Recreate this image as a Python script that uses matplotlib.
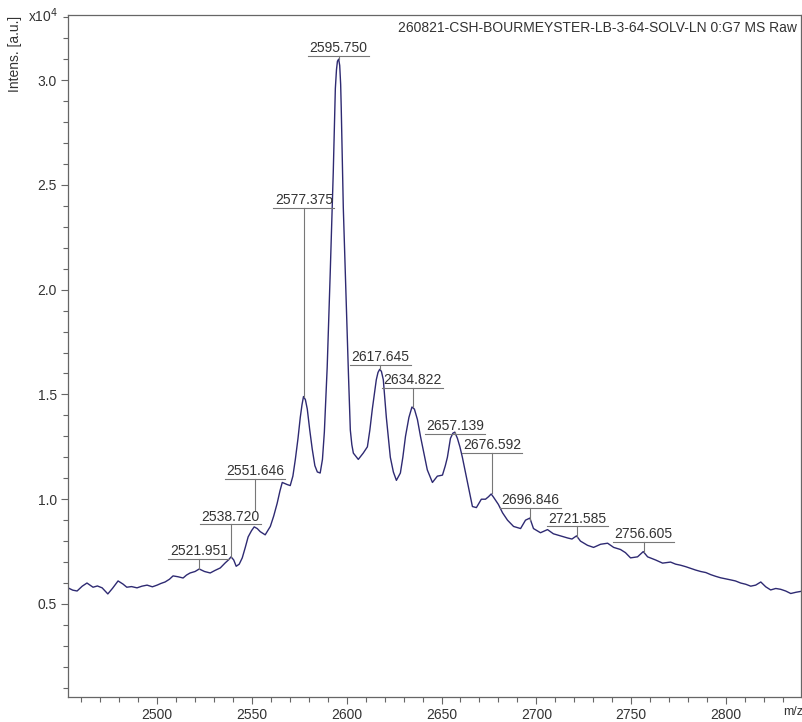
#MALDI spectrum, sample G7 raw

import matplotlib
matplotlib.use('Agg')
from matplotlib import pyplot as plt
from matplotlib.ticker import MultipleLocator

plt.rcParams['font.family'] = ['Liberation Sans', 'DejaVu Sans']

# spectrum trace (intensity in 1e4 a.u.)
mz = [2453, 2455.5, 2457.8, 2460.5, 2463, 2466.2, 2468.5, 2471, 2474, 2476.5,
      2479.4, 2482, 2484, 2486.5, 2489.4, 2492, 2494.7, 2497.5, 2500, 2502,
      2504.2, 2506.5, 2508.4, 2511, 2513.7, 2515.5, 2517.4, 2520, 2522.2, 2525,
      2528, 2530.5, 2533.3, 2535.9, 2537.6, 2539, 2540.4, 2541.7, 2543.3, 2544.9,
      2546.5, 2548, 2549.8, 2551.2, 2552.8, 2554.4, 2557, 2559.7, 2561.5, 2563.3,
      2564.8, 2566, 2568.6, 2570.2, 2571.6, 2572.9, 2574.3, 2575.5, 2576.4, 2577.2,
      2578.2, 2579.2, 2580.5, 2581.8, 2583.2, 2584.5, 2586, 2587.2, 2588.2, 2589.7,
      2591.3, 2592.9, 2594, 2594.6, 2595.1, 2595.75, 2596.3, 2596.8, 2597.1, 2598.2,
      2599.8, 2600.9, 2601.9, 2602.7, 2603.5, 2606.1, 2608.7, 2610.9, 2612.2, 2613.5,
      2615.6, 2616.5, 2617.4, 2618.3, 2619.3, 2620.9, 2623, 2624.6, 2626.2, 2628.3,
      2629.6, 2631, 2632.8, 2634.4, 2635.7, 2637.3, 2638.9, 2640.7, 2642.5, 2645.2,
      2647.8, 2650.5, 2652, 2653.1, 2654.7, 2656, 2657, 2658.4, 2659.7, 2661,
      2663.7, 2666.3, 2668.4, 2671, 2673.2, 2674.8, 2676.2, 2677.4, 2680, 2682.2,
      2684.8, 2688, 2691.7, 2694.3, 2696.6, 2698.5, 2700.4, 2702.2, 2705.9, 2709,
      2712.8, 2716.5, 2718.8, 2721.2, 2723.3, 2727, 2730.2, 2733.9, 2737.6, 2740.8,
      2744.4, 2747, 2749.7, 2753.4, 2756.4, 2758.7, 2762.9, 2766.6, 2770.8, 2773.5,
      2776.1, 2778.8, 2781.4, 2784, 2786.7, 2789.4, 2792, 2794.6, 2797.2, 2800,
      2802.5, 2805, 2807.8, 2810.5, 2813.1, 2815.7, 2818.4, 2821, 2823.6, 2826.3,
      2828.9, 2831.5, 2834.2, 2837, 2839.5]
intens = [0.577, 0.566, 0.562, 0.585, 0.60, 0.58, 0.586, 0.577, 0.548, 0.575,
          0.61, 0.595, 0.58, 0.583, 0.577, 0.585, 0.59, 0.582, 0.59, 0.598,
          0.605, 0.618, 0.634, 0.63, 0.624, 0.638, 0.648, 0.655, 0.667, 0.655,
          0.648, 0.66, 0.672, 0.696, 0.71, 0.725, 0.71, 0.68, 0.69, 0.72,
          0.77, 0.82, 0.85, 0.868, 0.86, 0.845, 0.83, 0.87, 0.92, 0.98,
          1.04, 1.08, 1.07, 1.065, 1.11, 1.19, 1.29, 1.39, 1.45, 1.49,
          1.475, 1.43, 1.33, 1.24, 1.16, 1.13, 1.125, 1.19, 1.32, 1.63,
          2.08, 2.56, 2.96, 3.05, 3.09, 3.10, 3.07, 2.98, 2.87, 2.39,
          1.92, 1.60, 1.33, 1.26, 1.22, 1.19, 1.22, 1.25, 1.33, 1.43,
          1.57, 1.605, 1.62, 1.61, 1.57, 1.39, 1.20, 1.13, 1.09, 1.125,
          1.2, 1.30, 1.39, 1.44, 1.43, 1.38, 1.30, 1.22, 1.14, 1.08,
          1.11, 1.115, 1.16, 1.20, 1.29, 1.315, 1.32, 1.29, 1.25, 1.20,
          1.08, 0.965, 0.96, 1.0, 1.0, 1.012, 1.025, 1.01, 0.975, 0.935,
          0.90, 0.87, 0.86, 0.90, 0.91, 0.86, 0.85, 0.84, 0.855, 0.835,
          0.825, 0.815, 0.81, 0.825, 0.80, 0.78, 0.77, 0.785, 0.79, 0.77,
          0.76, 0.745, 0.72, 0.725, 0.75, 0.725, 0.71, 0.695, 0.70, 0.69,
          0.685, 0.678, 0.67, 0.662, 0.655, 0.65, 0.64, 0.632, 0.625, 0.62,
          0.615, 0.61, 0.60, 0.594, 0.585, 0.59, 0.605, 0.582, 0.567, 0.574,
          0.57, 0.562, 0.55, 0.556, 0.56]

# labelled peaks
peak_mz = [2521.951, 2538.720, 2551.646, 2577.375, 2595.750, 2617.645, 2634.822,
           2657.139, 2676.592, 2696.846, 2721.585, 2756.605]
peak_int = [0.665, 0.725, 0.95, 1.49, 3.10, 1.62, 1.44, 1.32, 1.03, 0.90, 0.82, 0.75]
# height of the label underline for each peak
label_h = [0.715, 0.88, 1.095, 2.39, 3.115, 1.64, 1.53, 1.31, 1.22, 0.96, 0.87, 0.795]

title = "260821-CSH-BOURMEYSTER-LB-3-64-SOLV-LN 0:G7 MS Raw"

fig = plt.figure(figsize=(8.03, 7.22), dpi=100)
ax = fig.add_axes([0.0847, 0.0346, 0.9128, 0.9444])

ax.plot(mz, intens, color='#2e2a72', lw=1.0)

for m, p, h in zip(peak_mz, peak_int, label_h):
    ax.plot([m - 16, m + 16], [h, h], color='#777777', lw=0.8)
    ax.plot([m, m], [h, p], color='#777777', lw=0.8)
    ax.text(m, h + 0.004, "%.3f" % m, ha='center', va='bottom',
            fontsize=10, color='#333333')

ax.set_xlim(2453, 2839.6)
ax.set_ylim(0.056, 3.31)
ax.xaxis.set_major_locator(MultipleLocator(50))
ax.xaxis.set_minor_locator(MultipleLocator(10))
ax.yaxis.set_major_locator(MultipleLocator(0.5))
ax.yaxis.set_minor_locator(MultipleLocator(0.1))
ax.set_yticks([0.5, 1.0, 1.5, 2.0, 2.5, 3.0])
ax.set_yticklabels(["0.5", "1.0", "1.5", "2.0", "2.5", "3.0"])
ax.tick_params(which='major', length=5, width=0.8, color='#666666',
               labelsize=10, labelcolor='#333333', pad=3)
ax.tick_params(which='minor', length=3.5, width=0.8, color='#666666')
for s in ax.spines.values():
    s.set_color('#666666')
    s.set_linewidth(0.9)

ax.text(0.995, 0.992, title, transform=ax.transAxes, ha='right', va='top',
        fontsize=10, color='#333333')
fig.text(0.053, 0.978, "x10$^4$", ha='center', va='center', fontsize=10,
         color='#333333')
fig.text(0.019, 0.925, "Intens. [a.u.]", rotation=90, ha='center', va='center',
         fontsize=10, color='#333333')
fig.text(0.988, 0.006, "m/z", ha='center', va='bottom', fontsize=9,
         color='#333333')

fig.savefig('out.png', dpi=100)
